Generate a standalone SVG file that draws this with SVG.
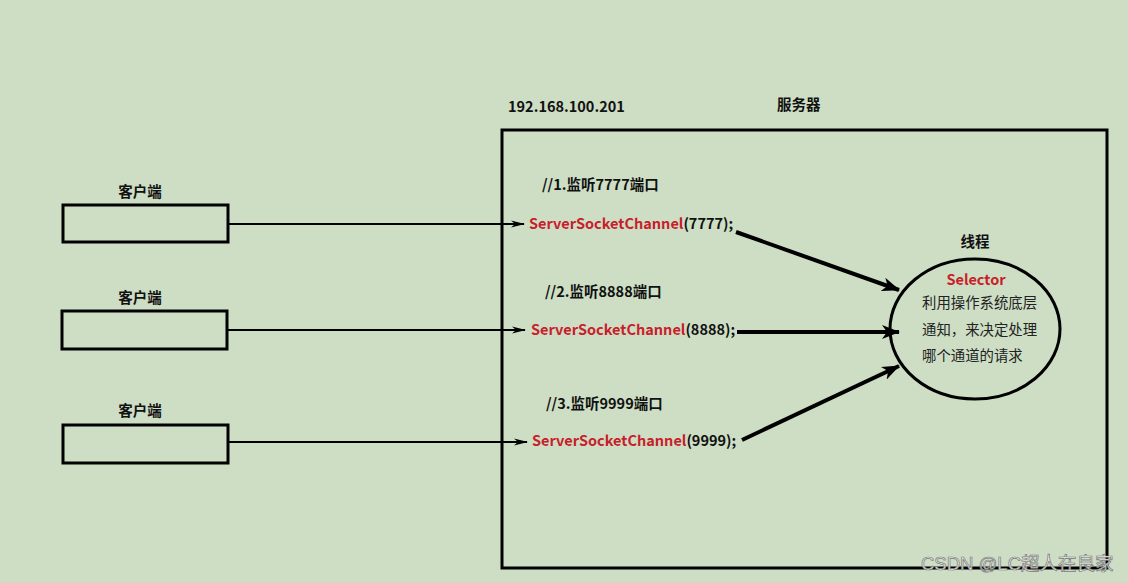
<svg xmlns="http://www.w3.org/2000/svg" width="1128" height="583" viewBox="0 0 1128 583">
<defs>
<style>
.bg{fill:#cddec4}
.box{fill:none;stroke:#000;stroke-width:3}
.lbl{font-family:"Noto Sans CJK SC","Microsoft YaHei",sans-serif;font-weight:bold;font-size:14.5px;fill:#111}
.red{fill:#c8202a}
.txt{font-family:"Noto Sans CJK SC",sans-serif;font-size:14.4px;fill:#222}
.thin{stroke:#000;stroke-width:2;fill:none}
.thick{stroke:#000;stroke-width:4;fill:none}
.wm{font-family:"Liberation Sans","Noto Sans CJK SC",sans-serif;font-size:18.5px;fill:#eeeeee;stroke:#777;stroke-width:0.7}
</style>
<marker id="a1" markerWidth="14" markerHeight="8" refX="13" refY="4" orient="auto" markerUnits="userSpaceOnUse">
<path d="M0,0.5 L14,4 L0,7.5 L4,4 Z" fill="#000"/>
</marker>
<marker id="a2" markerWidth="18" markerHeight="14" refX="17" refY="7" orient="auto" markerUnits="userSpaceOnUse">
<path d="M0,0 L18,7 L0,14 L5,7 Z" fill="#000"/>
</marker>
</defs>
<rect class="bg" x="0" y="0" width="1128" height="583"/>

<g id="server">
<rect class="box" x="502" y="130" width="605" height="438"/>
<text class="lbl" x="508" y="112">192.168.100.201</text>
<text class="lbl" x="777" y="110">服务器</text>
</g>

<g id="client1">
<text class="lbl" x="140" y="197" text-anchor="middle">客户端</text>
<rect class="box" x="63" y="205" width="165" height="37"/>
</g>
<g id="client2">
<text class="lbl" x="140" y="303" text-anchor="middle">客户端</text>
<rect class="box" x="62" y="311" width="165" height="38"/>
</g>
<g id="client3">
<text class="lbl" x="140" y="416" text-anchor="middle">客户端</text>
<rect class="box" x="63" y="425" width="165" height="38"/>
</g>

<g id="channel1">
<text class="lbl" x="542" y="190">//1.监听7777端口</text>
<text class="lbl" x="529" y="229"><tspan class="red">ServerSocketChannel</tspan>(7777);</text>
</g>
<g id="channel2">
<text class="lbl" x="545" y="297">//2.监听8888端口</text>
<text class="lbl" x="531" y="335"><tspan class="red">ServerSocketChannel</tspan>(8888);</text>
</g>
<g id="channel3">
<text class="lbl" x="546" y="409">//3.监听9999端口</text>
<text class="lbl" x="532" y="446"><tspan class="red">ServerSocketChannel</tspan>(9999);</text>
</g>

<g id="thread">
<text class="lbl" x="975" y="247" text-anchor="middle">线程</text>
<ellipse cx="975" cy="329" rx="85" ry="70" fill="none" stroke="#000" stroke-width="3"/>
<text class="lbl red" x="976" y="285" text-anchor="middle">Selector</text>
<text class="txt" x="922" y="308">利用操作系统底层</text>
<text class="txt" x="922" y="335">通知，来决定处理</text>
<text class="txt" x="922" y="361">哪个通道的请求</text>
</g>

<g id="connectors">
<line class="thin" x1="228" y1="224" x2="524" y2="224" marker-end="url(#a1)"/>
<line class="thin" x1="227" y1="330" x2="525" y2="330" marker-end="url(#a1)"/>
<line class="thin" x1="228" y1="442" x2="527" y2="442" marker-end="url(#a1)"/>
<line class="thick" x1="736" y1="232" x2="899" y2="290" marker-end="url(#a2)"/>
<line class="thick" x1="737" y1="332" x2="899" y2="332" marker-end="url(#a2)"/>
<line class="thick" x1="742" y1="440" x2="899" y2="366" marker-end="url(#a2)"/>
</g>

<text class="wm" x="921" y="570">CSDN @LC超人在良家</text>
</svg>
